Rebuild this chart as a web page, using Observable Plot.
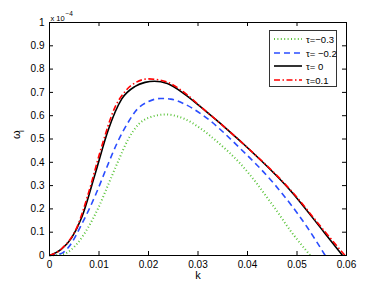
<!DOCTYPE html>
<html>
<head>
<meta charset="utf-8">
<script src="https://cdn.jsdelivr.net/npm/d3@7"></script>
<script src="https://cdn.jsdelivr.net/npm/@observablehq/plot@0.6"></script>
<style>
  html, body { margin: 0; padding: 0; background: #fff; }
  #wrap { position: relative; width: 382px; height: 287px; font-family: "Liberation Sans", Arial, sans-serif; }
  #legend { position: absolute; left: 269px; top: 30px; width: 66px; height: 55px; border: 1px solid #333; background: #fff; font-size: 9.5px; }
  #legend .row { position: absolute; left: 0; height: 12px; display: flex; align-items: center; }
  #legend svg { margin-left: 4px; }
  #legend span { margin-left: 4px; white-space: nowrap; }
</style>
</head>
<body>
<div id="wrap"></div>
<script>
// Data (ω_i in units of 1e-4)
const seriesNames = ["τ=−0.3", "τ= −0.2", "τ= 0", "τ=0.1"];

const kGreen = [0, 0.0028, 0.0058, 0.0078, 0.0099, 0.0119, 0.0139, 0.0159, 0.018, 0.02, 0.0235, 0.0272, 0.0306, 0.034, 0.0386, 0.0454, 0.0487, 0.0521, 0.0527];
const vGreen = [0, 0.006, 0.056, 0.12, 0.206, 0.306, 0.406, 0.499, 0.563, 0.591, 0.605, 0.587, 0.544, 0.486, 0.393, 0.207, 0.106, 0.015, 0];

const kBlue = [0, 0.0024, 0.0038, 0.0065, 0.0092, 0.0116, 0.0136, 0.0159, 0.0176, 0.02, 0.0225, 0.0245, 0.0272, 0.0306, 0.0386, 0.0454, 0.0521, 0.0557];
const vBlue = [0, 0.009, 0.034, 0.134, 0.255, 0.38, 0.48, 0.572, 0.625, 0.661, 0.674, 0.671, 0.651, 0.608, 0.458, 0.307, 0.12, 0];

const kBlack = [0, 0.0024, 0.0045, 0.0065, 0.0092, 0.0119, 0.0146, 0.0173, 0.0193, 0.0212, 0.0238, 0.0272, 0.0306, 0.0386, 0.0487, 0.0555, 0.0592];
const vBlack = [0, 0.027, 0.077, 0.163, 0.349, 0.541, 0.672, 0.726, 0.743, 0.748, 0.738, 0.694, 0.637, 0.49, 0.278, 0.099, 0];

const kRed = [0, 0.0025, 0.0058, 0.0078, 0.0105, 0.0132, 0.0153, 0.0173, 0.02, 0.0238, 0.0272, 0.0306, 0.0386, 0.0487, 0.0555, 0.0597];
const vRed = [0, 0.03, 0.134, 0.263, 0.465, 0.635, 0.705, 0.741, 0.758, 0.744, 0.7, 0.638, 0.49, 0.281, 0.106, 0];

const xTicks = [0, 0.01, 0.02, 0.03, 0.04, 0.05, 0.06];
const xTickLabels = ["0", "0.01", "0.02", "0.03", "0.04", "0.05", "0.06"];
const yTicks = [0, 0.1, 0.2, 0.3, 0.4, 0.5, 0.6, 0.7, 0.8, 0.9, 1];
const yTickLabels = ["0", "0.1", "0.2", "0.3", "0.4", "0.5", "0.6", "0.7", "0.8", "0.9", "1"];

const styles = [
  {color: "#5cc43c", dash: "1,2.4", width: 2},
  {color: "#2a4dff", dash: "6,4", width: 1.6},
  {color: "#000000", dash: null, width: 1.6},
  {color: "#ff0000", dash: "6,2.5,1.5,2.5", width: 1.6}
];

const ks = [kGreen, kBlue, kBlack, kRed];
const vs = [vGreen, vBlue, vBlack, vRed];
const tables = ks.map((k, i) => k.map((x, j) => ({k: x, w: vs[i][j]})));

const tickLenX = 4 / 232.4;   // inward tick length expressed in y units
const tickLenY = 4 / 4940;    // inward tick length expressed in x units

const lineMarks = tables.map((t, i) => Plot.line(t, {
  x: "k", y: "w", curve: "monotone-x",
  stroke: styles[i].color, strokeWidth: styles[i].width,
  strokeDasharray: styles[i].dash, strokeLinecap: "butt"
}));

const chart = Plot.plot({
  width: 382,
  height: 287,
  marginLeft: 49,
  marginRight: 36,
  marginTop: 22,
  marginBottom: 32,
  style: {fontFamily: "Liberation Sans, Arial, sans-serif", fontSize: "10px", color: "#000", background: "#fff"},
  x: {domain: [0, 0.06], ticks: xTicks, tickFormat: (d) => xTickLabels[xTicks.indexOf(d)], tickSize: 0, tickPadding: 5, label: null},
  y: {domain: [0, 1], ticks: yTicks, tickFormat: (d) => yTickLabels[yTicks.indexOf(d)], tickSize: 0, tickPadding: 5, label: null},
  marks: [
    ...lineMarks,
    Plot.ruleX(xTicks, {x: d => d, y1: 0, y2: tickLenX, stroke: "#000"}),
    Plot.ruleX(xTicks, {x: d => d, y1: 1, y2: 1 - tickLenX, stroke: "#000"}),
    Plot.ruleY(yTicks, {y: d => d, x1: 0, x2: tickLenY, stroke: "#000"}),
    Plot.ruleY(yTicks, {y: d => d, x1: 0.06, x2: 0.06 - tickLenY, stroke: "#000"}),
    Plot.frame({stroke: "#000", strokeWidth: 1}),
    Plot.text(["k"], {frameAnchor: "bottom", dy: 23, fontSize: 11, text: d => d}),
    Plot.text(["x 10"], {frameAnchor: "top-left", dx: 1, dy: -7, fontSize: 7.5, textAnchor: "start", text: d => d}),
    Plot.text(["−4"], {frameAnchor: "top-left", dx: 16, dy: -11, fontSize: 6.5, textAnchor: "start", text: d => d}),
    Plot.text(["ω"], {frameAnchor: "left", dx: -33, dy: 0, fontSize: 11, rotate: -90, text: d => d}),
    Plot.text(["i"], {frameAnchor: "left", dx: -28, dy: -7, fontSize: 8, rotate: -90, text: d => d})
  ]
});

const wrap = document.getElementById("wrap");
wrap.appendChild(chart);

const legend = document.createElement("div");
legend.id = "legend";
const rowTops = [2, 16, 29, 43];
seriesNames.forEach((name, i) => {
  const row = document.createElement("div");
  row.className = "row";
  row.style.top = rowTops[i] + "px";
  const s = styles[i];
  row.innerHTML = `<svg width="28" height="8"><line x1="0" y1="4" x2="28" y2="4" stroke="${s.color}" stroke-width="${s.width}" ${s.dash ? `stroke-dasharray="${s.dash}"` : ""}/></svg><span>${name}</span>`;
  legend.appendChild(row);
});
wrap.appendChild(legend);
</script>
</body>
</html>
